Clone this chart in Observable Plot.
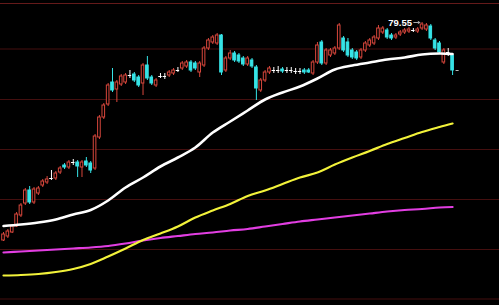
<!DOCTYPE html>
<html>
<head>
<meta charset="utf-8">
<script src="https://cdn.jsdelivr.net/npm/d3@7"></script>
<script src="https://cdn.jsdelivr.net/npm/@observablehq/plot@0.6"></script>
<style>
  html, body { margin: 0; padding: 0; background: #000; }
  #chart { width: 499px; height: 305px; overflow: hidden; }
</style>
</head>
<body>
<div id="chart"></div>
<script>
// Daily candles (price units)
const opens = [57.75,58.15,58.55,59.15,60.25,61.45,62.75,61.55,62.45,63.25,
63.55,63.95,63.95,64.55,65.25,65.05,65.55,65.55,65.05,65.65,
65.45,64.95,68.05,70.05,71.35,73.55,72.85,73.35,73.55,74.25,
74.35,74.05,73.45,75.25,74.05,73.25,74.15,74.15,74.25,74.45,
74.75,74.95,75.15,75.55,75.45,74.55,75.25,76.95,77.55,77.45,
78.25,74.75,75.95,76.45,76.25,75.95,75.35,75.75,75.05,72.75,
73.75,74.55,74.75,74.75,74.85,74.75,74.75,74.65,74.65,74.75,
74.75,74.45,75.55,77.55,75.45,76.25,76.45,76.95,77.95,77.55,
76.75,76.55,76.05,76.75,77.25,77.45,77.95,78.55,78.75,78.25,
78.05,78.35,78.55,78.65,78.75,78.65,78.95,78.85,79.15,77.75,
77.45,75.55,76.55,76.25];
const highs = [58.55,58.85,59.35,60.55,61.45,62.95,63.15,63.05,63.15,63.85,
64.15,64.75,64.65,65.15,65.45,65.75,65.85,65.75,65.75,66.05,
65.65,68.35,70.25,71.45,73.45,74.95,73.75,74.35,74.45,74.75,
74.55,74.25,75.45,76.15,74.25,73.95,74.45,74.45,74.75,74.95,
75.05,75.65,75.75,75.75,75.65,75.65,77.15,77.95,78.25,78.45,
78.35,76.15,76.75,76.65,76.45,76.15,76.15,75.95,75.25,73.95,
74.75,75.15,75.05,75.15,75.05,75.05,75.05,74.95,74.95,74.95,
74.95,75.75,77.55,77.75,76.95,76.95,77.15,79.45,78.15,77.95,
76.95,76.75,76.95,77.65,77.95,78.25,79.25,79.15,78.95,78.45,
78.45,78.75,78.95,79.05,78.95,79.05,79.55,79.45,79.35,77.95,
77.65,76.95,76.95,76.45];
const lows = [57.65,57.95,58.45,59.05,60.05,61.25,61.35,61.35,62.25,63.05,
63.35,63.75,63.75,64.35,64.85,64.85,65.25,64.05,64.05,65.05,
64.45,64.75,67.85,69.85,71.15,72.55,71.55,73.15,73.35,73.95,
73.55,73.05,72.25,73.75,73.25,73.05,73.95,73.85,74.05,74.25,
74.55,74.75,74.95,74.55,74.75,74.05,75.05,76.75,77.35,77.25,
74.25,74.55,75.75,75.55,75.45,75.15,75.15,74.95,71.75,72.55,
73.55,74.35,74.45,74.45,74.45,74.45,74.45,74.35,74.35,74.35,
74.45,74.25,75.35,75.25,75.25,76.05,76.25,76.75,76.55,76.05,
75.85,75.75,75.85,76.55,77.05,77.25,77.75,78.35,77.85,77.75,
77.85,78.15,78.35,78.45,78.55,78.45,78.75,78.65,77.75,76.75,
76.35,75.35,76.15,74.25];
const closes = [58.35,58.65,59.15,60.35,61.25,62.75,61.55,62.85,62.95,63.65,
63.85,63.95,64.45,64.95,65.05,65.55,65.55,65.15,65.55,65.25,
64.75,68.15,70.05,71.25,73.25,72.75,73.55,74.15,74.25,74.25,
73.75,73.25,75.25,73.95,73.45,73.75,74.15,74.15,74.55,74.75,
74.75,75.45,75.55,74.75,74.95,75.45,76.95,77.75,78.05,78.25,
74.55,75.95,76.45,75.75,75.65,75.35,75.95,75.15,72.95,73.75,
74.55,74.95,74.75,74.75,74.65,74.75,74.75,74.65,74.65,74.55,
74.55,75.55,77.25,75.45,76.75,76.75,76.95,79.25,76.75,76.25,
76.05,75.95,76.75,77.45,77.75,78.05,78.95,78.95,78.05,77.95,
78.25,78.55,78.75,78.85,78.75,78.85,79.35,79.25,77.95,76.95,
76.55,76.75,76.55,74.75];

// Moving averages, read at every 4th bar
const maIdx = [0,4,8,12,16,20,24,28,32,36,40,44,48,52,56,60,64,68,72,76,80,84,88,92,96,100,103];
const maWhite = [59.2,59.35,59.55,59.85,60.35,60.8,61.75,63.05,64.05,65.15,66.05,67.05,68.55,69.65,70.75,71.85,72.55,73.15,73.95,74.85,75.25,75.55,75.85,76.05,76.35,76.45,76.4];
const maYellow = [54.25,54.3,54.4,54.6,54.9,55.4,56.15,56.95,57.8,58.45,59.15,60.05,60.75,61.4,62.2,62.75,63.4,64.05,64.55,65.35,66.05,66.7,67.4,68.0,68.6,69.1,69.45];
const maMagenta = [56.55,56.65,56.75,56.85,56.95,57.05,57.2,57.45,57.75,58.0,58.2,58.4,58.55,58.75,58.9,59.15,59.4,59.65,59.85,60.05,60.25,60.45,60.65,60.8,60.9,61.05,61.1];

// Horizontal grid levels
const gridLevels = [51.9, 56.85, 61.85, 66.85, 71.85, 76.9];
const frameTop = [81.45];

const RED = "#d8473c", CYAN = "#36e3e6", WHITE = "#ffffff";

const candles = opens.map((o, i) => ({i, o, h: highs[i], l: lows[i], c: closes[i]}));
const upBars = candles.filter(d => d.c > d.o);
const downBars = candles.filter(d => d.c < d.o);
const flatBars = candles.filter(d => d.c === d.o);
const maRows = maIdx.map((i, k) => ({i, w: maWhite[k], y: maYellow[k], m: maMagenta[k]}));
const peakBar = [candles.reduce((a, b) => (b.h > a.h ? b : a))];
const lastBar = [candles[candles.length - 1]];

const chart = Plot.plot({
  width: 499,
  height: 305,
  margin: 0,
  style: {background: "#000", overflow: "hidden"},
  x: {domain: [-0.69, 113.76], axis: null},
  y: {domain: [51.25, 81.75], axis: null},
  marks: [
    Plot.ruleY(gridLevels, {stroke: "#440f0f", strokeWidth: 1}),
    Plot.ruleY(frameTop, {stroke: "#641a1a", strokeWidth: 1}),
    Plot.ruleX(upBars, {x: "i", y1: "l", y2: "h", stroke: RED}),
    Plot.ruleX(downBars, {x: "i", y1: "l", y2: "h", stroke: CYAN}),
    Plot.ruleX(flatBars, {x: "i", y1: "l", y2: "h", stroke: WHITE}),
    Plot.rect(upBars, {x1: d => d.i - 0.3, x2: d => d.i + 0.3, y1: "o", y2: "c", fill: "#000", stroke: RED}),
    Plot.rect(downBars, {x1: d => d.i - 0.3, x2: d => d.i + 0.3, y1: "o", y2: "c", fill: CYAN, stroke: CYAN}),
    Plot.ruleY(flatBars, {y: "c", x1: d => d.i - 0.4, x2: d => d.i + 0.4, stroke: WHITE}),
    Plot.ruleY(lastBar, {y: "c", x1: d => d.i + 0.8, x2: d => d.i + 1.5, stroke: "#bbb"}),
    Plot.line(maRows, {x: "i", y: "m", stroke: "#e23ee2", strokeWidth: 2.2, curve: "catmull-rom"}),
    Plot.line(maRows, {x: "i", y: "y", stroke: "#f2f23a", strokeWidth: 2.2, curve: "catmull-rom"}),
    Plot.line(maRows, {x: "i", y: "w", stroke: "#ffffff", strokeWidth: 2.6, curve: "catmull-rom"}),
    Plot.text(peakBar, {x: "i", y: "h", text: d => d.h.toFixed(2), textAnchor: "end", dx: -10,
      fill: "#fff", fontSize: 9.5, fontWeight: "bold", fontFamily: "Liberation Sans, Arial, sans-serif"}),
    Plot.arrow(peakBar, {x1: d => d.i - 1.9, x2: d => d.i - 0.5, y1: "h", y2: "h", stroke: "#aaa",
      strokeWidth: 1, headLength: 3})
  ]
});
document.getElementById("chart").append(chart);
</script>
</body>
</html>
